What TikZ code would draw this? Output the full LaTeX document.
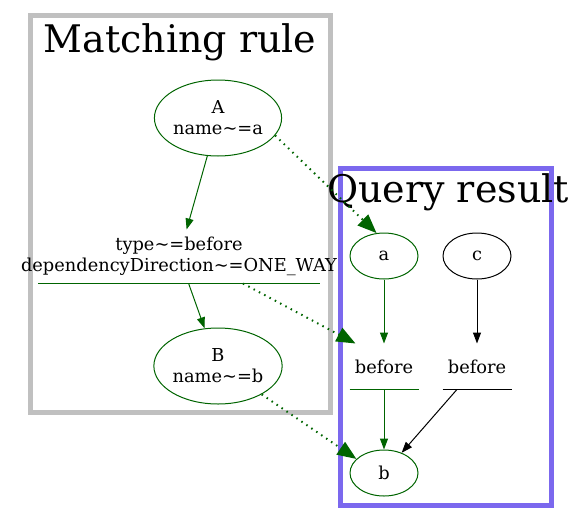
\documentclass[tikz,border=0pt]{standalone}
\usepackage{fontspec}
\setmainfont{DejaVu Serif}
\usetikzlibrary{shapes.geometric,arrows.meta,calc}

\definecolor{rulegreen}{HTML}{006400}
\definecolor{rulegray}{HTML}{C0C0C0}
\definecolor{resultpurple}{HTML}{7B68EE}

\tikzset{
  elem/.style={ellipse, draw, inner sep=0pt, align=center, font=\fontsize{17.8}{21}\selectfont},
  rel/.style={inner sep=0pt, align=center, font=\fontsize{17.8}{21}\selectfont},
  flow/.style={-{Triangle[length=11pt,width=8pt]}},
  match/.style={rulegreen, line width=2pt, dash pattern=on 1.5pt off 4.5pt, -{Triangle[length=19pt,width=15pt]}},
  frame/.style={line width=5pt},
  title/.style={inner sep=0pt, font=\fontsize{38}{40}\selectfont}
}

\begin{document}
\begin{tikzpicture}[x=1pt, y=-1pt, line width=1pt]
        \useasboundingbox (0,0) rectangle (580,522);

        % clusters
        \draw[frame, rulegray] (30,15) rectangle (330,412);
        \node[title] (ruletitle) at (180,42) {Matching rule};
        \draw[frame, resultpurple] (340,168) rectangle (551,505);
        \node[title] (resulttitle) at (448,192) {Query result};

        % matching rule
        \node[elem, draw=rulegreen, minimum width=124pt, minimum height=76pt] (A) at (218,118) {A\\name\textasciitilde=a};
        \node[rel, minimum height=53pt] (t) at (179,256.5) {type\textasciitilde=before\\dependencyDirection\textasciitilde=ONE\_WAY};
        \node[elem, draw=rulegreen, minimum width=124pt, minimum height=76pt] (B) at (218,366) {B\\name\textasciitilde=b};
        \draw[rulegreen] ([xshift=-141pt]t.south) -- ([xshift=141pt]t.south);

        \draw[flow, rulegreen] (A) -- (t);
        \draw[flow, rulegreen] (t) -- (B);

        % query result
        \node[elem, draw=rulegreen, minimum width=68pt, minimum height=46pt] (a) at (384,256) {a};
        \node[elem, minimum width=68pt, minimum height=46pt] (c) at (477,256) {c};
        \node[rel, minimum width=68pt, minimum height=45pt] (f1) at (384,366.5) {before};
        \node[rel, minimum width=68pt, minimum height=45pt] (f2) at (477,366.5) {before};
        \node[elem, draw=rulegreen, minimum width=68pt, minimum height=46pt] (b) at (384,473) {b};
        \draw[rulegreen] (f1.south west) -- (f1.south east);
        \draw (f2.south west) -- (f2.south east);

        \draw[flow, rulegreen] (a) -- (f1);
        \draw[flow, rulegreen] (f1) -- (b);
        \draw[flow] (c) -- (f2);
        \draw[flow] (f2) -- (b);

        % matches
        \draw[match] (A.-17) -- (a.108);
        \draw[match] ([xshift=64pt]t.south) -- ([xshift=6pt]f1.north west);
        \draw[match] (B.-33) -- (b.153);
      \end{tikzpicture}
\end{document}
